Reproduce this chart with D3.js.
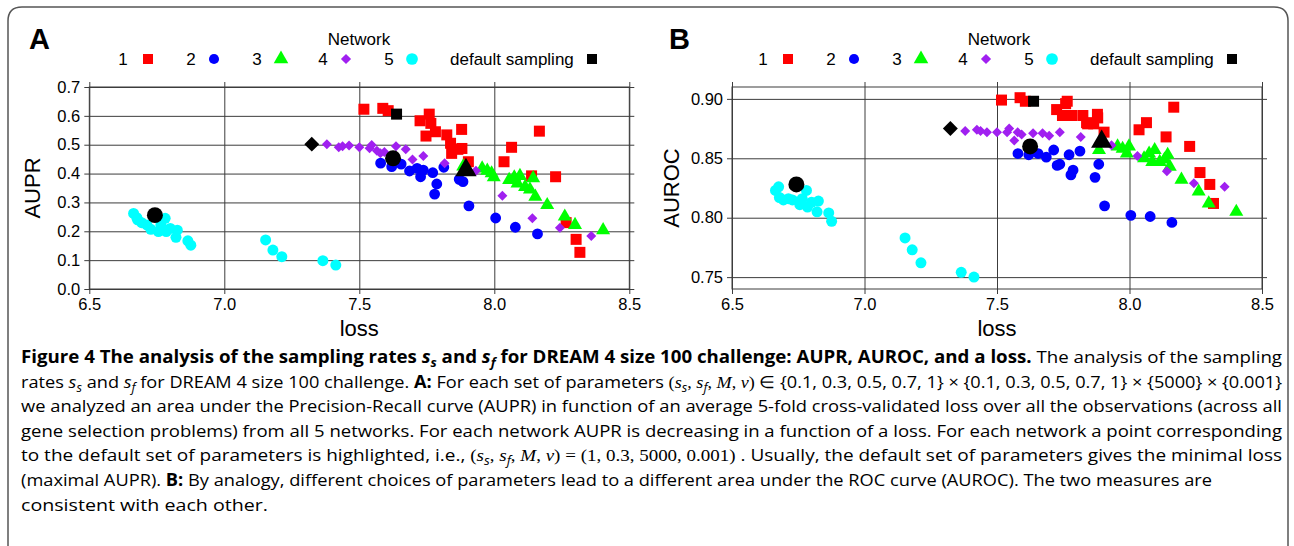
<!DOCTYPE html>
<html>
<head>
<meta charset="utf-8">
<script src="https://cdn.jsdelivr.net/npm/d3@7"></script>
<style>
  body { margin: 0; background: #fff; }
</style>
</head>
<body>
<svg id="chart" width="1294" height="546" font-family="'Liberation Sans', Arial, sans-serif"></svg>
<script>
// ---- data ----
const networkNames = ["1", "2", "3", "4", "5"]
const networkColors = ["#ff0000", "#0000ff", "#00ff00", "#a020f0", "#00ffff"]

const loss1 = [7.517, 7.587, 7.607, 7.725, 7.759, 7.747, 7.765, 7.782, 7.824, 7.842, 7.865, 7.879, 7.838, 7.880, 7.904, 8.036, 8.064, 8.138, 8.167, 8.227, 8.266, 8.303, 8.317]
const aupr1 = [0.623, 0.626, 0.618, 0.583, 0.606, 0.530, 0.574, 0.545, 0.534, 0.470, 0.484, 0.553, 0.505, 0.487, 0.441, 0.441, 0.491, 0.392, 0.547, 0.389, 0.230, 0.172, 0.127]
const auroc1 = [0.899, 0.901, 0.898, 0.891, 0.896, 0.886, 0.898, 0.886, 0.886, 0.879, 0.879, 0.887, 0.880, 0.884, 0.872, 0.874, 0.880, 0.868, 0.893, 0.860, 0.838, 0.828, 0.812]

const loss2 = [7.579, 7.620, 7.655, 7.686, 7.714, 7.727, 7.737, 7.772, 7.813, 7.787, 7.779, 7.870, 7.884, 7.906, 8.005, 8.078, 8.160]
const aupr2 = [0.436, 0.424, 0.433, 0.409, 0.418, 0.389, 0.412, 0.403, 0.422, 0.364, 0.329, 0.380, 0.372, 0.288, 0.246, 0.214, 0.191]
const auroc2 = [0.854, 0.853, 0.854, 0.851, 0.857, 0.844, 0.845, 0.853, 0.856, 0.840, 0.836, 0.834, 0.845, 0.810, 0.802, 0.801, 0.796]

const loss3 = [7.885, 7.955, 7.974, 7.990, 7.998, 8.055, 8.074, 8.095, 8.086, 8.114, 8.132, 8.144, 8.152, 8.196, 8.261, 8.299, 8.403]
const aupr3 = [0.425, 0.418, 0.410, 0.401, 0.387, 0.378, 0.387, 0.392, 0.366, 0.354, 0.345, 0.384, 0.320, 0.291, 0.251, 0.222, 0.204]
const auroc3 = [0.857, 0.860, 0.858, 0.854, 0.860, 0.850, 0.854, 0.857, 0.847, 0.847, 0.849, 0.853, 0.843, 0.832, 0.822, 0.812, 0.805]

const loss4 = [7.380, 7.424, 7.438, 7.462, 7.500, 7.538, 7.546, 7.565, 7.578, 7.593, 7.636, 7.672, 7.697, 7.737, 7.816, 7.932, 8.030, 8.141, 8.243, 8.359]
const aupr4 = [0.502, 0.491, 0.495, 0.497, 0.491, 0.488, 0.499, 0.479, 0.470, 0.475, 0.495, 0.484, 0.449, 0.461, 0.436, 0.410, 0.323, 0.245, 0.212, 0.184]
const auroc4 = [0.873, 0.874, 0.873, 0.872, 0.872, 0.872, 0.875, 0.865, 0.872, 0.870, 0.871, 0.871, 0.869, 0.872, 0.868, 0.861, 0.852, 0.839, 0.829, 0.826]

const loss5 = [6.664, 6.676, 6.679, 6.694, 6.713, 6.728, 6.756, 6.765, 6.781, 6.785, 6.800, 6.826, 6.821, 6.865, 6.876, 7.153, 7.180, 7.213, 7.365, 7.413]
const aupr5 = [0.262, 0.247, 0.240, 0.230, 0.222, 0.207, 0.199, 0.222, 0.245, 0.199, 0.210, 0.204, 0.179, 0.167, 0.152, 0.170, 0.135, 0.112, 0.098, 0.083]
const auroc5 = [0.823, 0.826, 0.817, 0.815, 0.816, 0.815, 0.811, 0.816, 0.823, 0.809, 0.813, 0.814, 0.805, 0.804, 0.797, 0.783, 0.773, 0.762, 0.754, 0.750]

// default sampling point of each network (1..5)
const defaultLoss = [7.638, 7.625, 7.895, 7.324, 6.743]
const defaultAupr = [0.606, 0.453, 0.412, 0.502, 0.256]
const defaultAuroc = [0.898, 0.860, 0.864, 0.875, 0.828]

const lossTicks = [6.5, 7.0, 7.5, 8.0, 8.5]
const auprTicks = [0, 0.1, 0.2, 0.3, 0.4, 0.5, 0.6, 0.7]
const aurocTicks = [0.75, 0.80, 0.85, 0.90]

const captionLines = [
  [["Figure 4 The analysis of the sampling rates ", "b"], ["s", "bi"], ["s", "bsub"], [" and ", "b"], ["s", "bi"], ["f", "bsub"],
   [" for DREAM 4 size 100 challenge: AUPR, AUROC, and a loss.", "b"], [" The analysis of the sampling", "r"]],
  [["rates ", "r"], ["s", "i"], ["s", "sub"], [" and ", "r"], ["s", "i"], ["f", "sub"], [" for DREAM 4 size 100 challenge. ", "r"], ["A:", "b"],
   [" For each set of parameters ", "r"], ["(", "m"], ["s", "mi"], ["s", "sub"], [", ", "m"], ["s", "mi"], ["f", "sub"], [", ", "m"], ["M", "mi"], [", ", "m"], ["ν", "mi"], [") ∈ ", "m"],
   ["{0.1, 0.3, 0.5, 0.7, 1} × {0.1, 0.3, 0.5, 0.7, 1} × {5000} × {0.001}", "r"]],
  [["we analyzed an area under the Precision-Recall curve (AUPR) in function of an average 5-fold cross-validated loss over all the observations (across all", "r"]],
  [["gene selection problems) from all 5 networks. For each network AUPR is decreasing in a function of a loss. For each network a point corresponding", "r"]],
  [["to the default set of parameters is highlighted, i.e., ", "r"], ["(", "m"], ["s", "mi"], ["s", "sub"], [", ", "m"], ["s", "mi"], ["f", "sub"], [", ", "m"], ["M", "mi"], [", ", "m"], ["ν", "mi"],
   [") = (1, 0.3, 5000, 0.001)", "m"], [" . Usually, the default set of parameters gives the minimal loss", "r"]],
  [["(maximal AUPR). ", "r"], ["B:", "b"], [" By analogy, different choices of parameters lead to a different area under the ROC curve (AUROC). The two measures are", "r"]],
  [["consistent with each other.", "r"]]
]
const captionWidths = [1261, 1261, 1261, 1261, 1261, 1191, 247]

// ---- drawing ----
const svg = d3.select("#chart")
const gridColor = "#3c3c3c"
const plotTop = 87, plotBottom = 289, ext = 5

const diamond = {
  draw(ctx, size) {
    const r = Math.sqrt(size / 2)
    ctx.moveTo(0, -r); ctx.lineTo(r, 0); ctx.lineTo(0, r); ctx.lineTo(-r, 0); ctx.closePath()
  }
}
const shapes = [d3.symbolSquare, d3.symbolCircle, d3.symbolTriangle, diamond, d3.symbolCircle]
const pointSizes = [121, 92, 85, 50, 95]
const defaultSizes = [121, 200, 195, 112, 200]
const legendSizes = [100, 80, 92, 52, 108]

// outer figure frame
svg.append("path")
  .attr("d", "M8,560 V21 Q8,7 22,7 H1274 Q1288,7 1288,21 V560")
  .attr("fill", "none").attr("stroke", "#555").attr("stroke-width", 1.5)

function drawPanel(p) {
  const x = d3.scaleLinear().domain([6.5, 8.5]).range([p.left, p.right])
  const y = d3.scaleLinear().domain(p.yDomain).range([plotBottom, plotTop])
  const g = svg.append("g")

  const xAxis = g.append("g")
    .attr("transform", `translate(0,${plotBottom + ext})`)
    .call(d3.axisBottom(x).tickValues(lossTicks).tickFormat(d3.format(".1f"))
      .tickSizeInner(-(plotBottom - plotTop + 2 * ext)).tickSizeOuter(0).tickPadding(4))
  const yAxis = g.append("g")
    .attr("transform", `translate(${p.left - ext},0)`)
    .call(d3.axisLeft(y).tickValues(p.yTicks).tickFormat(d3.format(p.fmt))
      .tickSizeInner(-(p.right - p.left + 2 * ext)).tickSizeOuter(0).tickPadding(4))
  for (const ax of [xAxis, yAxis]) {
    ax.attr("font-family", null)
    ax.select(".domain").remove()
    ax.selectAll("line").attr("stroke", gridColor)
    ax.selectAll("text").attr("font-size", 16.5).attr("fill", "#000")
  }

  g.append("rect")
    .attr("x", p.left).attr("y", plotTop)
    .attr("width", p.right - p.left).attr("height", plotBottom - plotTop)
    .attr("fill", "none").attr("stroke", gridColor)

  // points, network 1..5 then the default points on top
  p.series.forEach((s, i) => {
    g.append("g").selectAll("path")
      .data(s.loss.map((l, j) => [l, s.vals[j]]))
      .join("path")
      .attr("transform", d => `translate(${x(d[0])},${y(d[1])})`)
      .attr("d", d3.symbol(shapes[i], pointSizes[i]))
      .attr("fill", networkColors[i])
  })
  g.append("g").selectAll("path")
    .data(defaultLoss.map((l, j) => [l, p.defaults[j], j]))
    .join("path")
    .attr("transform", d => `translate(${x(d[0])},${y(d[1])})`)
    .attr("d", d => d3.symbol(shapes[d[2]], defaultSizes[d[2]])())
    .attr("fill", "#000")

  // axis titles
  g.append("text").attr("x", (p.left + p.right) / 2).attr("y", 336)
    .attr("text-anchor", "middle").attr("font-size", 22).text("loss")
  g.append("text").attr("transform", `translate(${p.ylabX},188) rotate(-90)`)
    .attr("text-anchor", "middle").attr("font-size", 22).text(p.ylab)

  // panel letter
  g.append("text").attr("x", p.ox + 29).attr("y", 49)
    .attr("font-size", 29).attr("font-weight", "bold").text(p.letter)

  // legend
  const ox = p.ox
  g.append("text").attr("x", ox + 359).attr("y", 45).attr("text-anchor", "middle")
    .attr("font-size", 17).text("Network")
  const textX = [123, 191, 257, 323, 389]
  const markX = [148, 214, 281, 346, 412]
  networkNames.forEach((n, i) => {
    g.append("text").attr("x", ox + textX[i]).attr("y", 65).attr("text-anchor", "middle")
      .attr("font-size", 17).text(n)
    g.append("path").attr("transform", `translate(${ox + markX[i]},59)`)
      .attr("d", d3.symbol(shapes[i], legendSizes[i])).attr("fill", networkColors[i])
  })
  g.append("text").attr("x", ox + 450).attr("y", 65).attr("font-size", 17).text("default sampling")
  g.append("path").attr("transform", `translate(${ox + 592},59)`)
    .attr("d", d3.symbol(d3.symbolSquare, 100)).attr("fill", "#000")
}

const lossArrays = [loss1, loss2, loss3, loss4, loss5]

drawPanel({
  letter: "A", ox: 0, left: 89.3, right: 629.3, yDomain: [0, 0.7], yTicks: auprTicks, fmt: ".1f",
  ylab: "AUPR", ylabX: 40, defaults: defaultAupr,
  series: [aupr1, aupr2, aupr3, aupr4, aupr5].map((v, i) => ({ loss: lossArrays[i], vals: v }))
})
drawPanel({
  letter: "B", ox: 640, left: 732, right: 1262, yDomain: [0.74, 0.91], yTicks: aurocTicks, fmt: ".2f",
  ylab: "AUROC", ylabX: 679, defaults: defaultAuroc,
  series: [auroc1, auroc2, auroc3, auroc4, auroc5].map((v, i) => ({ loss: lossArrays[i], vals: v }))
})

// ---- caption ----
const cap = svg.append("g").attr("font-size", 17).attr("font-family", "'Open Sans', sans-serif")
captionLines.forEach((line, li) => {
  const t = cap.append("text")
    .attr("x", 21).attr("y", 363 + li * 24.6)
    .attr("textLength", captionWidths[li]).attr("lengthAdjust", "spacingAndGlyphs")
  let shifted = false
  line.forEach(([str, st]) => {
    const ts = t.append("tspan").text(str)
    const isSub = st === "sub" || st === "bsub"
    if (isSub && !shifted) { ts.attr("dy", 4); shifted = true }
    else if (!isSub && shifted) { ts.attr("dy", -4); shifted = false }
    if (isSub) ts.attr("font-size", 12).attr("font-style", "italic")
    if (st === "b" || st === "bi" || st === "bsub") ts.attr("font-weight", "bold")
    if (st === "i" || st === "bi") ts.attr("font-style", "italic")
    if (st === "m" || st === "mi") ts.attr("font-family", "'Liberation Serif', serif")
    if (st === "mi") ts.attr("font-style", "italic")
  })
})
</script>
</body>
</html>
